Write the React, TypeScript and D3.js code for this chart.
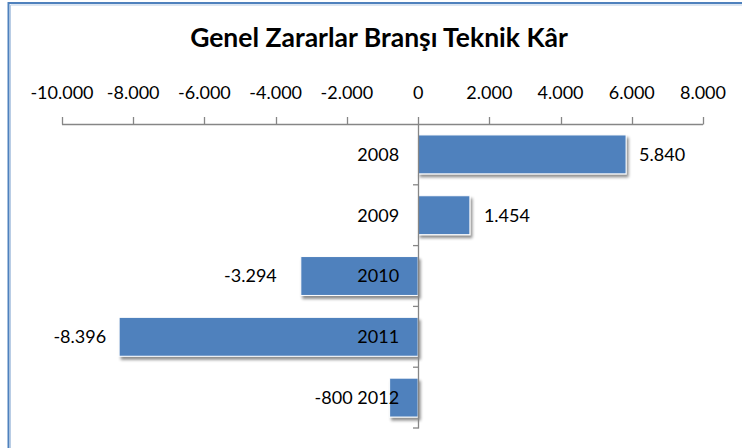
import React from "react";
import * as d3 from "d3";

const categories = ["2008", "2009", "2010", "2011", "2012"];
const values = [5840, 1454, -3294, -8396, -800];
const xTicks = [-10000, -8000, -6000, -4000, -2000, 0, 2000, 4000, 6000, 8000];
const valueLabels = ["5.840", "1.454", "-3.294", "-8.396", "-800"];
const labelGap = [13, 14, 24, 13, 37];
const title = "Genel Zararlar Branşı Teknik Kâr";

const W = 742;
const H = 448;
const FONT = "Lato, 'Open Sans', sans-serif";

const fmt = (v: number) => {
  if (v === 0) return "0";
  return d3.format(",")(v).replace(/,/g, ".").replace(/\u2212/g, "-");
};

export default function App() {
  const x = d3.scaleLinear().domain([-10000, 8000]).range([62, 703]);
  const y = d3.scaleBand<string>().domain(categories).range([124, 428]).paddingInner(0.36).paddingOuter(0.18);
  const band = d3.scaleBand<string>().domain(categories).range([124, 428]);
  const x0 = x(0);
  const grey = "#868686";

  return (
    <svg width={W} height={H} style={{ position: "fixed", left: 0, top: 0, background: "#fff" }} fontFamily={FONT}>
      <defs>
        <filter id="sh" x="-10%" y="-20%" width="130%" height="160%">
          <feGaussianBlur in="SourceAlpha" stdDeviation="1.5" />
          <feOffset dx="2" dy="2.5" result="b" />
          <feComponentTransfer>
            <feFuncA type="linear" slope="0.45" />
          </feComponentTransfer>
          <feMerge>
            <feMergeNode />
            <feMergeNode in="SourceGraphic" />
          </feMerge>
        </filter>
      </defs>
      <rect x={0} y={0} width={W} height={H} fill="#fff" />
      {/* chart border */}
      <path d={`M8.5,${H + 5} V3 H${W + 5}`} fill="none" stroke="#4F81BD" strokeWidth={2} />
      <path d={`M10.5,${H + 5} V5 H${W + 5}`} fill="none" stroke="#B9CDE5" strokeWidth={1} />

      <text x={379} y={47} textAnchor="middle" fontSize={26.5} fontWeight="bold" fill="#000">
        {title}
      </text>

      {/* x axis */}
      <line x1={x(-10000)} x2={x(8000)} y1={124.5} y2={124.5} stroke={grey} strokeWidth={1.3} />
      {xTicks.map((t) => (
        <g key={t}>
          <line x1={Math.round(x(t)) + 0.5} x2={Math.round(x(t)) + 0.5} y1={117} y2={124.5} stroke={grey} strokeWidth={1.3} />
          <text x={x(t)} y={99} textAnchor="middle" fontSize={18} fill="#000">
            {fmt(t)}
          </text>
        </g>
      ))}

      {/* bars */}
      {categories.map((c, i) => {
        const v = values[i];
        const x1 = Math.min(x(v), x0);
        const w = Math.abs(x(v) - x0);
        return (
          <rect key={c} x={x1} y={y(c)!} width={w} height={y.bandwidth()} fill="#4F81BD" stroke="#fff" strokeWidth={1} filter="url(#sh)" />
        );
      })}

      {/* category axis */}
      <line x1={Math.round(x0) + 0.5} x2={Math.round(x0) + 0.5} y1={124} y2={428.5} stroke={grey} strokeWidth={1.3} />
      {categories.map((c) => (
        <line key={c} x1={Math.round(x0) - 5} x2={Math.round(x0) + 0.5} y1={band(c)! + band.bandwidth()} y2={band(c)! + band.bandwidth()} stroke={grey} strokeWidth={1.3} />
      ))}

      {/* category labels */}
      {categories.map((c) => (
        <text key={c} x={x0 - 19} y={y(c)! + y.bandwidth() / 2} dy="0.35em" textAnchor="end" fontSize={18} fill="#000">
          {c}
        </text>
      ))}

      {/* value labels */}
      {categories.map((c, i) => {
        const v = values[i];
        const pos = v >= 0;
        return (
          <text key={c} x={x(v) + (pos ? labelGap[i] : -labelGap[i])} y={y(c)! + y.bandwidth() / 2} dy="0.35em" textAnchor={pos ? "start" : "end"} fontSize={18} fill="#000">
            {valueLabels[i]}
          </text>
        );
      })}
    </svg>
  );
}
